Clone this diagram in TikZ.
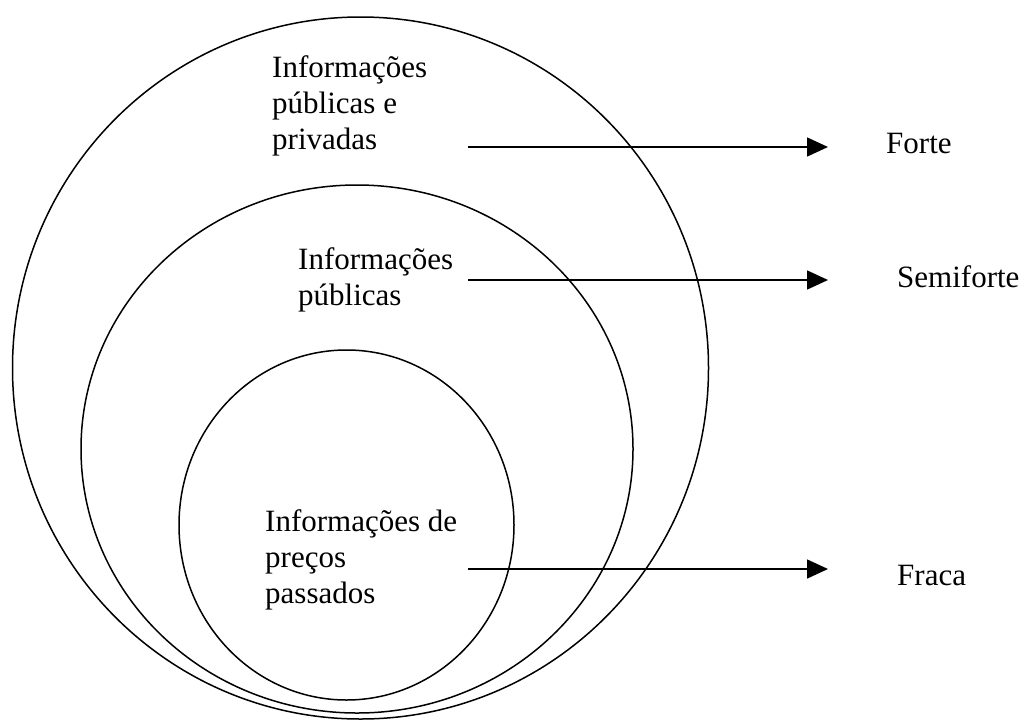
\documentclass[tikz,border=0pt]{standalone}
\usepackage{fontspec}
\setmainfont{Liberation Serif}
\usetikzlibrary{arrows.meta}
\begin{document}
\begin{tikzpicture}[x=1pt,y=-1pt,
    anel/.style={draw,line width=1.5pt},
    info/.style={anchor=base west,align=left,inner sep=0pt,font=\fontsize{31}{36}\selectfont},
    seta/.style={line width=1.5pt,-{Triangle[length=21pt,width=19pt]}}]
    \useasboundingbox (0,0) rectangle (1024,720);
    % conjuntos de informacao
    \draw[anel] (360.5,368) ellipse [x radius=348pt, y radius=351pt];
    \draw[anel] (357,449) ellipse [x radius=276pt, y radius=264pt];
    \draw[anel] (346.5,525) ellipse [x radius=167.5pt, y radius=175pt];
    % textos (base = ultima linha)
    \node[info] (privadas) at (272,149) {Informações\\públicas e\\privadas};
    \node[info] (publicas) at (298,305) {Informações\\públicas};
    \node[info] (passados) at (265,603) {Informações de\\preços\\passados};
    \node[info] (forte) at (886,153) {Forte};
    \node[info] (semiforte) at (897,287) {Semiforte};
    \node[info] (fraca) at (897,585) {Fraca};
    % setas
    \coordinate (s1) at (468,147);
    \coordinate (t1) at (828,147);
    \coordinate (s2) at (468,280);
    \coordinate (t2) at (828,280);
    \coordinate (s3) at (468,569);
    \coordinate (t3) at (828,569);
    \draw[seta] (s1) -- (t1);
    \draw[seta] (s2) -- (t2);
    \draw[seta] (s3) -- (t3);
\end{tikzpicture}
\end{document}
